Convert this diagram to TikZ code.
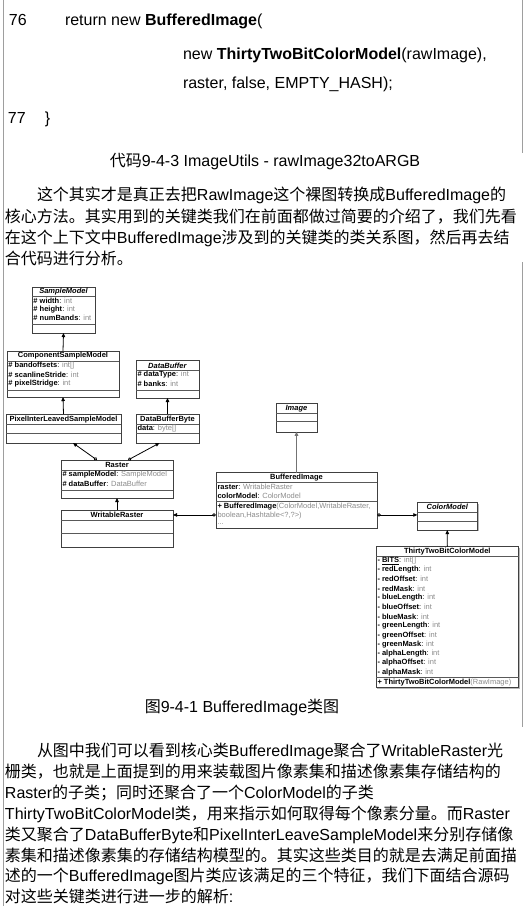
\documentclass[tikz,border=0pt]{standalone}
\usepackage{fontspec}
\setmainfont{Liberation Sans}
\newfontfamily\cjk{Noto Sans CJK SC}
\usetikzlibrary{arrows.meta,shadows}

\definecolor{typegray}{gray}{0.55}
\definecolor{rulegray}{gray}{0.62}

\newcommand{\zh}[1]{{\cjk #1}}
\newcommand{\ty}[1]{\textcolor{typegray}{#1}}
\newcommand{\att}[3]{\textbf{#1 #2}: \ty{#3}}

\begin{document}
\begin{tikzpicture}[x=1pt, y=-1pt,
  every node/.style={inner sep=0pt, outer sep=0pt},
  txt/.style={anchor=base west, font=\fontsize{16}{20}\selectfont},
  cls/.style={draw=black!75, fill=white, line width=0.6pt, anchor=north west,
    drop shadow={shadow xshift=1.2pt, shadow yshift=-1.2pt, fill=black!55, opacity=0.5}},
  divl/.style={draw=black!65, line width=0.5pt},
  ttl/.style={font=\fontsize{7.5}{9}\selectfont\bfseries},
  attr/.style={anchor=west, font=\fontsize{7.5}{9}\selectfont},
  gen/.style={-{Triangle[length=4pt,width=3.5pt]}, line width=0.8pt},
  aggr/.style={{Diamond[open,length=4pt,width=3.5pt]}-{Triangle[length=4pt,width=3.5pt]}, line width=0.8pt}]

\useasboundingbox (0,0) rectangle (526,906);
\fill[white] (0,0) rectangle (526,906);

% page rules
\draw[rulegray, line width=1pt] (3,0) -- (3,906);
\draw[rulegray, line width=1pt] (522,0) -- (522,153);
\draw[rulegray, line width=1pt] (522,262) -- (522,727);

% code lines
\node[txt] (n76) at (9,25) {76};
\node[txt] (c1) at (65,25) {return new \textbf{BufferedImage}(};
\node[txt] (c2) at (183,59) {new \textbf{ThirtyTwoBitColorModel}(rawImage),};
\node[txt] (c3) at (183,88) {raster, false, EMPTY\_HASH);};
\node[txt] (n77) at (8,123) {77};
\node[txt] (c4) at (45,123) {\}};
\node[txt, anchor=base] (cap1) at (265,166) {\zh{代码}9-4-3 ImageUtils - rawImage32toARGB};

% first paragraph
\node[txt] (p1) at (37,200) {\zh{这个其实才是真正去把}RawImage\zh{这个裸图转换成}BufferedImage\zh{的}};
\node[txt] (p2) at (5,222) {\zh{核心方法。其实用到的关键类我们在前面都做过简要的介绍了，我们先看}};
\node[txt] (p3) at (5,243) {\zh{在这个上下文中}BufferedImage\zh{涉及到的关键类的类关系图，然后再去结}};
\node[txt] (p4) at (5,264) {\zh{合代码进行分析。}};

% SampleModel
\node[cls, minimum width=63pt, minimum height=46pt] (smodel) at (32,287) {};
\node[ttl] at (63.5,291.7) {\textit{SampleModel}};
\draw[divl] (32,296) -- (95,296);
\draw[divl] (32,324) -- (95,324);
\node[attr] at (33.5,300.7) {\att{\#}{width}{int}};
\node[attr] at (33.5,309.3) {\att{\#}{height}{int}};
\node[attr] at (33.5,318.3) {\att{\#}{numBands}{int}};

% ComponentSampleModel
\node[cls, minimum width=112pt, minimum height=46pt] (csmodel) at (7,351) {};
\node[ttl] at (63,356) {ComponentSampleModel};
\draw[divl] (7,361) -- (119,361);
\draw[divl] (7,390) -- (119,390);
\node[attr] at (8.5,366) {\att{\#}{bandoffsets}{int[]}};
\node[attr] at (8.5,375) {\att{\#}{scanlineStride}{int}};
\node[attr] at (8.5,384) {\att{\#}{pixelStridge}{int}};

% DataBuffer
\node[cls, minimum width=63pt, minimum height=38pt] (dbuf) at (136,360) {};
\node[ttl] at (167.5,365.7) {\textit{DataBuffer}};
\draw[divl] (136,370) -- (199,370);
\draw[divl] (136,390) -- (199,390);
\node[attr] at (137.5,375) {\att{\#}{dataType}{int}};
\node[attr] at (137.5,384) {\att{\#}{banks}{int}};

% PixelInterLeavedSampleModel
\node[cls, minimum width=115pt, minimum height=29pt] (pism) at (6,414) {};
\node[ttl] at (63.5,419.3) {PixelInterLeavedSampleModel};
\draw[divl] (6,424.3) -- (121,424.3);
\draw[divl] (6,433.3) -- (121,433.3);

% DataBufferByte
\node[cls, minimum width=63pt, minimum height=29pt] (dbbyte) at (136,414) {};
\node[ttl] at (167.5,419.3) {DataBufferByte};
\draw[divl] (136,424.3) -- (199,424.3);
\draw[divl] (136,433.3) -- (199,433.3);
\node[attr] at (137.5,428.6) {\textbf{data}: \ty{byte[]}};

% Raster
\node[cls, minimum width=112pt, minimum height=38pt] (raster) at (61,460) {};
\node[ttl] at (117,465) {Raster};
\draw[divl] (61,470) -- (173,470);
\draw[divl] (61,490) -- (173,490);
\node[attr] at (62.5,475) {\att{\#}{sampleModel}{SampleModel}};
\node[attr] at (62.5,484.3) {\att{\#}{dataBuffer}{DataBuffer}};

% WritableRaster
\node[cls, minimum width=112pt, minimum height=37pt] (wraster) at (61,510) {};
\node[ttl] at (117,515) {WritableRaster};
\draw[divl] (61,520.7) -- (173,520.7);
\draw[divl] (61,533) -- (173,533);

% Image
\node[cls, minimum width=41pt, minimum height=28.5pt] (img) at (276,403.3) {};
\node[ttl] at (296.5,408.3) {\textit{Image}};
\draw[divl] (276,413.3) -- (317,413.3);
\draw[divl] (276,421.7) -- (317,421.7);

% BufferedImage
\node[cls, minimum width=161pt, minimum height=55.5pt] (bimg) at (216,472.7) {};
\node[ttl] at (296.5,477.3) {BufferedImage};
\draw[divl] (216,482) -- (377,482);
\draw[divl] (216,501.3) -- (377,501.3);
\node[attr] at (217.5,487.3) {\textbf{raster}: \ty{WritableRaster}};
\node[attr] at (217.5,496) {\textbf{colorModel}: \ty{ColorModel}};
\node[attr] at (217.5,506.7) {\textbf{+ BufferedImage}\ty{(ColorModel,WritableRaster,}};
\node[attr] at (217.5,515.3) {\ty{boolean,Hashtable<?,?>)}};
\node[attr] at (217.5,524.5) {\ty{...}};

% ColorModel
\node[cls, minimum width=60pt, minimum height=27.3pt] (cmodel) at (417.3,502.7) {};
\node[ttl] at (447.3,507.3) {\textit{ColorModel}};
\draw[divl] (417.3,512) -- (477.3,512);
\draw[divl] (417.3,521) -- (477.3,521);

% ThirtyTwoBitColorModel
\node[cls, minimum width=142.7pt, minimum height=141pt] (ttbcm) at (376,546.7) {};
\node[ttl] at (447.3,551.7) {ThirtyTwoBitColorModel};
\draw[divl] (376,556) -- (518.7,556);
\draw[divl] (376,677.7) -- (518.7,677.7);
\node[attr] at (377.5,560.7) {\textbf{- \underline{BITS}}: \ty{int[]}};
\foreach \f [count=\i] in {redLength,redOffset,redMask,blueLength,blueOffset,blueMask,
    greenLength,greenOffset,greenMask,alphaLength,alphaOffset,alphaMask}
  \node[attr] at (377.5,{560.7+9.3*\i}) {\att{-}{\f}{int}};
\node[attr] at (377.5,682.7) {\textbf{+ ThirtyTwoBitColorModel}\ty{(RawImage)}};

% connectors
\draw[gen] (csmodel.north) -- (smodel.south);
\draw[gen] (pism.north) -- (csmodel.south);
\draw[gen] (dbbyte.north) -- (dbuf.south);
\draw[gen] (wraster.north) -- (raster.south);
\draw[gen, draw=black!55, line width=1.4pt] (bimg.north) -- (img.south);
\draw[gen] (ttbcm.north) -- (cmodel.south);
\draw[aggr] ([xshift=-20pt]raster.north) -- ([xshift=9.5pt]pism.south);
\draw[aggr] ([xshift=11pt]raster.north) -- ([xshift=-8pt]dbbyte.south);
\coordinate (bw) at ([yshift=-14.5pt]bimg.west);
\coordinate (be) at ([yshift=-14.5pt]bimg.east);
\draw[aggr] (bw) -- (bw -| wraster.east);
\draw[aggr] (be) -- (be -| cmodel.west);

% figure caption and second paragraph
\node[txt, anchor=base] (cap2) at (242,712) {\zh{图}9-4-1 BufferedImage\zh{类图}};
\node[txt] (q1) at (37,756) {\zh{从图中我们可以看到核心类}BufferedImage\zh{聚合了}WritableRaster\zh{光}};
\node[txt] (q2) at (5,777) {\zh{栅类，也就是上面提到的用来装载图片像素集和描述像素集存储结构的}};
\node[txt] (q3) at (5,798) {Raster\zh{的子类；同时还聚合了一个}ColorModel\zh{的子类}};
\node[txt] (q4) at (5,819) {ThirtyTwoBitColorModel\zh{类，用来指示如何取得每个像素分量。而}Raster};
\node[txt] (q5) at (5,840) {\zh{类又聚合了}DataBufferByte\zh{和}PixelInterLeaveSampleModel\zh{来分别存储像}};
\node[txt] (q6) at (5,861) {\zh{素集和描述像素集的存储结构模型的。其实这些类目的就是去满足前面描}};
\node[txt] (q7) at (5,881) {\zh{述的一个}BufferedImage\zh{图片类应该满足的三个特征，我们下面结合源码}};
\node[txt] (q8) at (5,902) {\zh{对这些关键类进行进一步的解析}:};

\end{tikzpicture}
\end{document}
